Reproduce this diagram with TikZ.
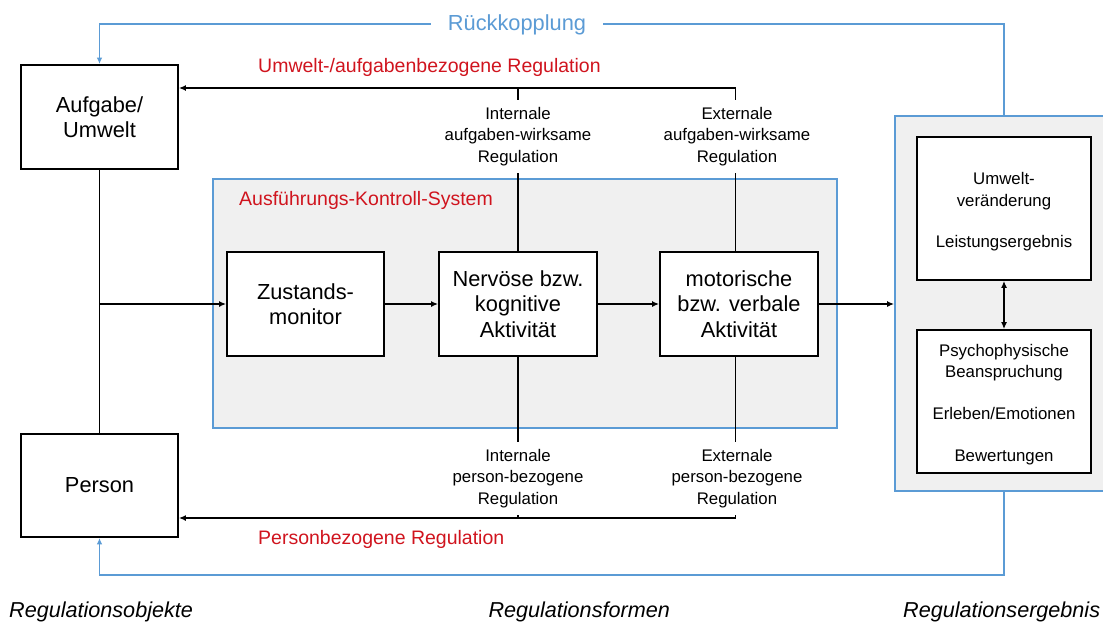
\documentclass[tikz,border=0pt]{standalone}
\usepackage{fontspec}
\setmainfont{Liberation Sans}
\usetikzlibrary{arrows.meta}
\definecolor{fbblue}{RGB}{91,155,213}
\definecolor{regred}{RGB}{208,20,30}
\definecolor{panelgray}{RGB}{240,240,240}

\begin{document}
\begin{tikzpicture}[x=1pt,y=-1pt,
  >={Latex[length=7pt,width=6pt]},
  box/.style={draw=black,line width=1.8pt,fill=white,inner sep=0pt,align=center,
    font=\fontsize{21.8}{25.5}\selectfont},
  smallbox/.style={draw=black,line width=1.8pt,fill=white,inner sep=0pt,
    font=\fontsize{16.8}{21.5}\selectfont},
  panel/.style={draw=fbblue,line width=1.8pt,fill=panelgray,inner sep=0pt},
  conn/.style={draw=black,line width=1.5pt},
  fb/.style={draw=fbblue,line width=1.8pt},
  lab/.style={fill=white,inner xsep=6pt,inner ysep=7pt,align=center,
    font=\fontsize{16.8}{21.5}\selectfont},
  redlab/.style={text=regred,inner sep=0pt,font=\fontsize{19.5}{23}\selectfont},
  caption/.style={inner sep=0pt,font=\fontsize{21.6}{26}\selectfont\itshape}]

\useasboundingbox (0,0) rectangle (1103,624);
\clip (0,0) rectangle (1103,624);

% background panels
\node[panel,minimum width=624,minimum height=249] (aks) at (525,303.5) {};
\node[panel,minimum width=217,minimum height=375] (res) at (1003.5,303.5) {};

% regulation objects
\node[box,minimum width=157,minimum height=104] (aufg) at (99.5,117) {Aufgabe/\\Umwelt};
\node[box,minimum width=157,minimum height=103] (pers) at (99.5,485.5) {Person};

% execution control system
\node[box,minimum width=157,minimum height=104] (zust) at (305.5,304) {Zustands-\\monitor};
\node[box,minimum width=158,minimum height=104] (nerv) at (518,304) {Nervöse bzw.\\kognitive\\Aktivität};
\node[box,minimum width=158,minimum height=104] (mot) at (739,304) {motorische\\bzw. verbale\\Aktivität};

% results (text set slightly below the box centre)
\node[smallbox,minimum width=174,minimum height=143] (ue) at (1004,208.5)
  {\raisebox{-7.7pt}[0pt][0pt]{\begin{tabular}{@{}c@{}}Umwelt-\\veränderung\\[19.5pt]Leistungsergebnis\end{tabular}}};
\node[smallbox,minimum width=174,minimum height=143] (pb) at (1004,401.5)
  {\raisebox{-7.7pt}[0pt][0pt]{\begin{tabular}{@{}c@{}}Psychophysische\\Beanspruchung\\[20.5pt]Erleben/Emotionen\\[20.5pt]Bewertungen\end{tabular}}};

% regulation connectors
\coordinate (topline) at (0,88);
\coordinate (botline) at (0,518);
\draw[conn,->] ([xshift=-3.5pt]mot.north) |- (aufg.east |- topline);
\draw[conn] (nerv.north) -- (nerv.north |- topline);
\draw[conn,->] ([xshift=-3.5pt]mot.south) |- (pers.east |- botline);
\draw[conn] (nerv.south) -- (nerv.south |- botline);
\draw[conn] (aufg.south) -- (pers.north);
\draw[conn,->] (aufg.south |- zust.west) -- (zust.west);
\draw[conn,->] (zust) -- (nerv);
\draw[conn,->] (nerv) -- (mot);
\draw[conn,->] (mot.east) -- (mot.east -| res.west);
\draw[conn,<->] (ue) -- (pb);

% feedback loop
\coordinate (fbtop) at (0,24);
\coordinate (fbbot) at (0,575);
\draw[fb,->,>={Latex[length=6.5pt,width=5.5pt]}] (res.north -| ue.north) |- (fbtop -| aufg.north) -- (aufg.north);
\draw[fb,->,>={Latex[length=6.5pt,width=5.5pt]}] (res.south -| ue.north) |- (fbbot -| pers.south) -- (pers.south);
\node[fill=white,inner xsep=17pt,inner ysep=4pt,anchor=base,text=fbblue,
  font=\fontsize{21.8}{26}\selectfont] (rk) at (517,30.5) {Rückkopplung};

% regulation form labels
\node[lab,anchor=north] (li1) at (518,99.8) {Internale\\aufgaben-wirksame\\Regulation};
\node[lab,anchor=north] (le1) at (737,99.8) {Externale\\aufgaben-wirksame\\Regulation};
\node[lab,anchor=north] (li2) at (518,441.8) {Internale\\person-bezogene\\Regulation};
\node[lab,anchor=north] (le2) at (737,441.8) {Externale\\person-bezogene\\Regulation};

\node[redlab,anchor=base west] (ur) at (258,72) {Umwelt-/aufgabenbezogene Regulation};
\node[redlab,anchor=base west] (pr) at (258,544) {Personbezogene Regulation};
\node[redlab,anchor=base west] (aksl) at (239,205) {Ausführungs-Kontroll-System};

% column captions
\node[caption,anchor=base west] (c1) at (9,617) {Regulationsobjekte};
\node[caption,anchor=base east] (c2) at (670,617) {Regulationsformen};
\node[caption,anchor=base west] (c3) at (903,617) {Regulationsergebnis};
\end{tikzpicture}
\end{document}
